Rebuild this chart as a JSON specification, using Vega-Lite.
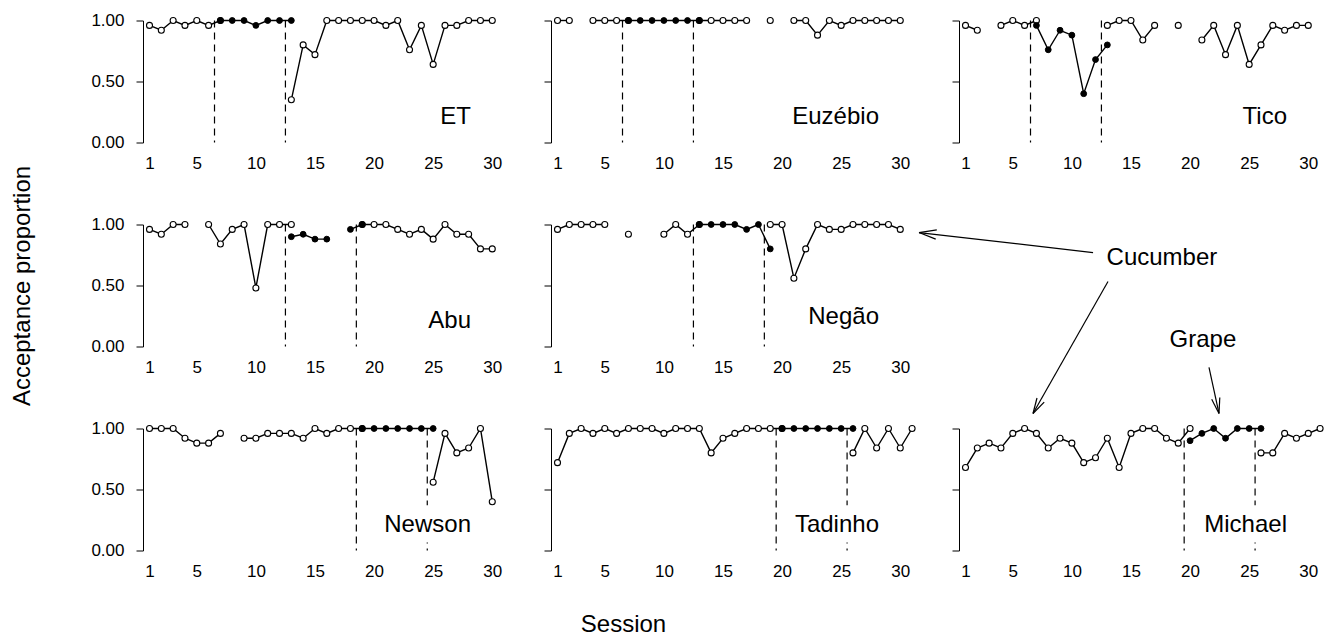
{
 "$schema": "https://vega.github.io/schema/vega-lite/v6.json",
 "padding": {"left": 10, "top": 11.5, "right": 0, "bottom": 0},
 "background": "white",
 "bounds": "flush",
 "columns": 3,
 "spacing": {"row": 82, "column": 41},
 "datasets": {
  "obs": [
   {"animal":"ET","session":1,"value":0.96,"phase":"open","seg":1},
   {"animal":"ET","session":2,"value":0.92,"phase":"open","seg":1},
   {"animal":"ET","session":3,"value":1,"phase":"open","seg":1},
   {"animal":"ET","session":4,"value":0.96,"phase":"open","seg":1},
   {"animal":"ET","session":5,"value":1,"phase":"open","seg":1},
   {"animal":"ET","session":6,"value":0.96,"phase":"open","seg":1},
   {"animal":"ET","session":7,"value":1,"phase":"open","seg":1},
   {"animal":"ET","session":7,"value":1,"phase":"filled","seg":2},
   {"animal":"ET","session":8,"value":1,"phase":"filled","seg":2},
   {"animal":"ET","session":9,"value":1,"phase":"filled","seg":2},
   {"animal":"ET","session":10,"value":0.96,"phase":"filled","seg":2},
   {"animal":"ET","session":11,"value":1,"phase":"filled","seg":2},
   {"animal":"ET","session":12,"value":1,"phase":"filled","seg":2},
   {"animal":"ET","session":13,"value":1,"phase":"filled","seg":2},
   {"animal":"ET","session":13,"value":0.35,"phase":"open","seg":3},
   {"animal":"ET","session":14,"value":0.8,"phase":"open","seg":3},
   {"animal":"ET","session":15,"value":0.72,"phase":"open","seg":3},
   {"animal":"ET","session":16,"value":1,"phase":"open","seg":3},
   {"animal":"ET","session":17,"value":1,"phase":"open","seg":3},
   {"animal":"ET","session":18,"value":1,"phase":"open","seg":3},
   {"animal":"ET","session":19,"value":1,"phase":"open","seg":3},
   {"animal":"ET","session":20,"value":1,"phase":"open","seg":3},
   {"animal":"ET","session":21,"value":0.96,"phase":"open","seg":3},
   {"animal":"ET","session":22,"value":1,"phase":"open","seg":3},
   {"animal":"ET","session":23,"value":0.76,"phase":"open","seg":3},
   {"animal":"ET","session":24,"value":0.96,"phase":"open","seg":3},
   {"animal":"ET","session":25,"value":0.64,"phase":"open","seg":3},
   {"animal":"ET","session":26,"value":0.96,"phase":"open","seg":3},
   {"animal":"ET","session":27,"value":0.96,"phase":"open","seg":3},
   {"animal":"ET","session":28,"value":1,"phase":"open","seg":3},
   {"animal":"ET","session":29,"value":1,"phase":"open","seg":3},
   {"animal":"ET","session":30,"value":1,"phase":"open","seg":3},

   {"animal":"Euzébio","session":1,"value":1,"phase":"open","seg":1},
   {"animal":"Euzébio","session":2,"value":1,"phase":"open","seg":1},
   {"animal":"Euzébio","session":4,"value":1,"phase":"open","seg":2},
   {"animal":"Euzébio","session":5,"value":1,"phase":"open","seg":2},
   {"animal":"Euzébio","session":6,"value":1,"phase":"open","seg":2},
   {"animal":"Euzébio","session":7,"value":1,"phase":"open","seg":2},
   {"animal":"Euzébio","session":7,"value":1,"phase":"filled","seg":3},
   {"animal":"Euzébio","session":8,"value":1,"phase":"filled","seg":3},
   {"animal":"Euzébio","session":9,"value":1,"phase":"filled","seg":3},
   {"animal":"Euzébio","session":10,"value":1,"phase":"filled","seg":3},
   {"animal":"Euzébio","session":11,"value":1,"phase":"filled","seg":3},
   {"animal":"Euzébio","session":12,"value":1,"phase":"filled","seg":3},
   {"animal":"Euzébio","session":13,"value":1,"phase":"filled","seg":3},
   {"animal":"Euzébio","session":13,"value":1,"phase":"open","seg":4},
   {"animal":"Euzébio","session":14,"value":1,"phase":"open","seg":4},
   {"animal":"Euzébio","session":15,"value":1,"phase":"open","seg":4},
   {"animal":"Euzébio","session":16,"value":1,"phase":"open","seg":4},
   {"animal":"Euzébio","session":17,"value":1,"phase":"open","seg":4},
   {"animal":"Euzébio","session":19,"value":1,"phase":"open","seg":5},
   {"animal":"Euzébio","session":21,"value":1,"phase":"open","seg":6},
   {"animal":"Euzébio","session":22,"value":1,"phase":"open","seg":6},
   {"animal":"Euzébio","session":23,"value":0.88,"phase":"open","seg":6},
   {"animal":"Euzébio","session":24,"value":1,"phase":"open","seg":6},
   {"animal":"Euzébio","session":25,"value":0.96,"phase":"open","seg":6},
   {"animal":"Euzébio","session":26,"value":1,"phase":"open","seg":6},
   {"animal":"Euzébio","session":27,"value":1,"phase":"open","seg":6},
   {"animal":"Euzébio","session":28,"value":1,"phase":"open","seg":6},
   {"animal":"Euzébio","session":29,"value":1,"phase":"open","seg":6},
   {"animal":"Euzébio","session":30,"value":1,"phase":"open","seg":6},

   {"animal":"Tico","session":1,"value":0.96,"phase":"open","seg":1},
   {"animal":"Tico","session":2,"value":0.92,"phase":"open","seg":1},
   {"animal":"Tico","session":4,"value":0.96,"phase":"open","seg":2},
   {"animal":"Tico","session":5,"value":1,"phase":"open","seg":2},
   {"animal":"Tico","session":6,"value":0.96,"phase":"open","seg":2},
   {"animal":"Tico","session":7,"value":1,"phase":"open","seg":2},
   {"animal":"Tico","session":7,"value":0.96,"phase":"filled","seg":3},
   {"animal":"Tico","session":8,"value":0.76,"phase":"filled","seg":3},
   {"animal":"Tico","session":9,"value":0.92,"phase":"filled","seg":3},
   {"animal":"Tico","session":10,"value":0.88,"phase":"filled","seg":3},
   {"animal":"Tico","session":11,"value":0.4,"phase":"filled","seg":3},
   {"animal":"Tico","session":12,"value":0.68,"phase":"filled","seg":3},
   {"animal":"Tico","session":13,"value":0.8,"phase":"filled","seg":3},
   {"animal":"Tico","session":13,"value":0.96,"phase":"open","seg":4},
   {"animal":"Tico","session":14,"value":1,"phase":"open","seg":4},
   {"animal":"Tico","session":15,"value":1,"phase":"open","seg":4},
   {"animal":"Tico","session":16,"value":0.84,"phase":"open","seg":4},
   {"animal":"Tico","session":17,"value":0.96,"phase":"open","seg":4},
   {"animal":"Tico","session":19,"value":0.96,"phase":"open","seg":5},
   {"animal":"Tico","session":21,"value":0.84,"phase":"open","seg":6},
   {"animal":"Tico","session":22,"value":0.96,"phase":"open","seg":6},
   {"animal":"Tico","session":23,"value":0.72,"phase":"open","seg":6},
   {"animal":"Tico","session":24,"value":0.96,"phase":"open","seg":6},
   {"animal":"Tico","session":25,"value":0.64,"phase":"open","seg":6},
   {"animal":"Tico","session":26,"value":0.8,"phase":"open","seg":6},
   {"animal":"Tico","session":27,"value":0.96,"phase":"open","seg":6},
   {"animal":"Tico","session":28,"value":0.92,"phase":"open","seg":6},
   {"animal":"Tico","session":29,"value":0.96,"phase":"open","seg":6},
   {"animal":"Tico","session":30,"value":0.96,"phase":"open","seg":6},

   {"animal":"Abu","session":1,"value":0.96,"phase":"open","seg":1},
   {"animal":"Abu","session":2,"value":0.92,"phase":"open","seg":1},
   {"animal":"Abu","session":3,"value":1,"phase":"open","seg":1},
   {"animal":"Abu","session":4,"value":1,"phase":"open","seg":1},
   {"animal":"Abu","session":6,"value":1,"phase":"open","seg":2},
   {"animal":"Abu","session":7,"value":0.84,"phase":"open","seg":2},
   {"animal":"Abu","session":8,"value":0.96,"phase":"open","seg":2},
   {"animal":"Abu","session":9,"value":1,"phase":"open","seg":2},
   {"animal":"Abu","session":10,"value":0.48,"phase":"open","seg":2},
   {"animal":"Abu","session":11,"value":1,"phase":"open","seg":2},
   {"animal":"Abu","session":12,"value":1,"phase":"open","seg":2},
   {"animal":"Abu","session":13,"value":1,"phase":"open","seg":2},
   {"animal":"Abu","session":13,"value":0.9,"phase":"filled","seg":3},
   {"animal":"Abu","session":14,"value":0.92,"phase":"filled","seg":3},
   {"animal":"Abu","session":15,"value":0.88,"phase":"filled","seg":3},
   {"animal":"Abu","session":16,"value":0.88,"phase":"filled","seg":3},
   {"animal":"Abu","session":18,"value":0.96,"phase":"filled","seg":4},
   {"animal":"Abu","session":19,"value":1,"phase":"filled","seg":4},
   {"animal":"Abu","session":19,"value":1,"phase":"open","seg":5},
   {"animal":"Abu","session":20,"value":1,"phase":"open","seg":5},
   {"animal":"Abu","session":21,"value":1,"phase":"open","seg":5},
   {"animal":"Abu","session":22,"value":0.96,"phase":"open","seg":5},
   {"animal":"Abu","session":23,"value":0.92,"phase":"open","seg":5},
   {"animal":"Abu","session":24,"value":0.96,"phase":"open","seg":5},
   {"animal":"Abu","session":25,"value":0.88,"phase":"open","seg":5},
   {"animal":"Abu","session":26,"value":1,"phase":"open","seg":5},
   {"animal":"Abu","session":27,"value":0.92,"phase":"open","seg":5},
   {"animal":"Abu","session":28,"value":0.92,"phase":"open","seg":5},
   {"animal":"Abu","session":29,"value":0.8,"phase":"open","seg":5},
   {"animal":"Abu","session":30,"value":0.8,"phase":"open","seg":5},

   {"animal":"Negão","session":1,"value":0.96,"phase":"open","seg":1},
   {"animal":"Negão","session":2,"value":1,"phase":"open","seg":1},
   {"animal":"Negão","session":3,"value":1,"phase":"open","seg":1},
   {"animal":"Negão","session":4,"value":1,"phase":"open","seg":1},
   {"animal":"Negão","session":5,"value":1,"phase":"open","seg":1},
   {"animal":"Negão","session":7,"value":0.92,"phase":"open","seg":2},
   {"animal":"Negão","session":10,"value":0.92,"phase":"open","seg":3},
   {"animal":"Negão","session":11,"value":1,"phase":"open","seg":3},
   {"animal":"Negão","session":12,"value":0.92,"phase":"open","seg":3},
   {"animal":"Negão","session":13,"value":1,"phase":"open","seg":3},
   {"animal":"Negão","session":13,"value":1,"phase":"filled","seg":4},
   {"animal":"Negão","session":14,"value":1,"phase":"filled","seg":4},
   {"animal":"Negão","session":15,"value":1,"phase":"filled","seg":4},
   {"animal":"Negão","session":16,"value":1,"phase":"filled","seg":4},
   {"animal":"Negão","session":17,"value":0.96,"phase":"filled","seg":4},
   {"animal":"Negão","session":18,"value":1,"phase":"filled","seg":4},
   {"animal":"Negão","session":19,"value":0.8,"phase":"filled","seg":4},
   {"animal":"Negão","session":19,"value":1,"phase":"open","seg":5},
   {"animal":"Negão","session":20,"value":1,"phase":"open","seg":5},
   {"animal":"Negão","session":21,"value":0.56,"phase":"open","seg":5},
   {"animal":"Negão","session":22,"value":0.8,"phase":"open","seg":5},
   {"animal":"Negão","session":23,"value":1,"phase":"open","seg":5},
   {"animal":"Negão","session":24,"value":0.96,"phase":"open","seg":5},
   {"animal":"Negão","session":25,"value":0.96,"phase":"open","seg":5},
   {"animal":"Negão","session":26,"value":1,"phase":"open","seg":5},
   {"animal":"Negão","session":27,"value":1,"phase":"open","seg":5},
   {"animal":"Negão","session":28,"value":1,"phase":"open","seg":5},
   {"animal":"Negão","session":29,"value":1,"phase":"open","seg":5},
   {"animal":"Negão","session":30,"value":0.96,"phase":"open","seg":5},

   {"animal":"Newson","session":1,"value":1,"phase":"open","seg":1},
   {"animal":"Newson","session":2,"value":1,"phase":"open","seg":1},
   {"animal":"Newson","session":3,"value":1,"phase":"open","seg":1},
   {"animal":"Newson","session":4,"value":0.92,"phase":"open","seg":1},
   {"animal":"Newson","session":5,"value":0.88,"phase":"open","seg":1},
   {"animal":"Newson","session":6,"value":0.88,"phase":"open","seg":1},
   {"animal":"Newson","session":7,"value":0.96,"phase":"open","seg":1},
   {"animal":"Newson","session":9,"value":0.92,"phase":"open","seg":2},
   {"animal":"Newson","session":10,"value":0.92,"phase":"open","seg":2},
   {"animal":"Newson","session":11,"value":0.96,"phase":"open","seg":2},
   {"animal":"Newson","session":12,"value":0.96,"phase":"open","seg":2},
   {"animal":"Newson","session":13,"value":0.96,"phase":"open","seg":2},
   {"animal":"Newson","session":14,"value":0.92,"phase":"open","seg":2},
   {"animal":"Newson","session":15,"value":1,"phase":"open","seg":2},
   {"animal":"Newson","session":16,"value":0.96,"phase":"open","seg":2},
   {"animal":"Newson","session":17,"value":1,"phase":"open","seg":2},
   {"animal":"Newson","session":18,"value":1,"phase":"open","seg":2},
   {"animal":"Newson","session":19,"value":1,"phase":"open","seg":2},
   {"animal":"Newson","session":19,"value":1,"phase":"filled","seg":3},
   {"animal":"Newson","session":20,"value":1,"phase":"filled","seg":3},
   {"animal":"Newson","session":21,"value":1,"phase":"filled","seg":3},
   {"animal":"Newson","session":22,"value":1,"phase":"filled","seg":3},
   {"animal":"Newson","session":23,"value":1,"phase":"filled","seg":3},
   {"animal":"Newson","session":24,"value":1,"phase":"filled","seg":3},
   {"animal":"Newson","session":25,"value":1,"phase":"filled","seg":3},
   {"animal":"Newson","session":25,"value":0.56,"phase":"open","seg":4},
   {"animal":"Newson","session":26,"value":0.96,"phase":"open","seg":4},
   {"animal":"Newson","session":27,"value":0.8,"phase":"open","seg":4},
   {"animal":"Newson","session":28,"value":0.84,"phase":"open","seg":4},
   {"animal":"Newson","session":29,"value":1,"phase":"open","seg":4},
   {"animal":"Newson","session":30,"value":0.4,"phase":"open","seg":4},

   {"animal":"Tadinho","session":1,"value":0.72,"phase":"open","seg":1},
   {"animal":"Tadinho","session":2,"value":0.96,"phase":"open","seg":1},
   {"animal":"Tadinho","session":3,"value":1,"phase":"open","seg":1},
   {"animal":"Tadinho","session":4,"value":0.96,"phase":"open","seg":1},
   {"animal":"Tadinho","session":5,"value":1,"phase":"open","seg":1},
   {"animal":"Tadinho","session":6,"value":0.96,"phase":"open","seg":1},
   {"animal":"Tadinho","session":7,"value":1,"phase":"open","seg":1},
   {"animal":"Tadinho","session":8,"value":1,"phase":"open","seg":1},
   {"animal":"Tadinho","session":9,"value":1,"phase":"open","seg":1},
   {"animal":"Tadinho","session":10,"value":0.96,"phase":"open","seg":1},
   {"animal":"Tadinho","session":11,"value":1,"phase":"open","seg":1},
   {"animal":"Tadinho","session":12,"value":1,"phase":"open","seg":1},
   {"animal":"Tadinho","session":13,"value":1,"phase":"open","seg":1},
   {"animal":"Tadinho","session":14,"value":0.8,"phase":"open","seg":1},
   {"animal":"Tadinho","session":15,"value":0.92,"phase":"open","seg":1},
   {"animal":"Tadinho","session":16,"value":0.96,"phase":"open","seg":1},
   {"animal":"Tadinho","session":17,"value":1,"phase":"open","seg":1},
   {"animal":"Tadinho","session":18,"value":1,"phase":"open","seg":1},
   {"animal":"Tadinho","session":19,"value":1,"phase":"open","seg":1},
   {"animal":"Tadinho","session":20,"value":1,"phase":"open","seg":1},
   {"animal":"Tadinho","session":20,"value":1,"phase":"filled","seg":2},
   {"animal":"Tadinho","session":21,"value":1,"phase":"filled","seg":2},
   {"animal":"Tadinho","session":22,"value":1,"phase":"filled","seg":2},
   {"animal":"Tadinho","session":23,"value":1,"phase":"filled","seg":2},
   {"animal":"Tadinho","session":24,"value":1,"phase":"filled","seg":2},
   {"animal":"Tadinho","session":25,"value":1,"phase":"filled","seg":2},
   {"animal":"Tadinho","session":26,"value":1,"phase":"filled","seg":2},
   {"animal":"Tadinho","session":26,"value":0.8,"phase":"open","seg":3},
   {"animal":"Tadinho","session":27,"value":1,"phase":"open","seg":3},
   {"animal":"Tadinho","session":28,"value":0.84,"phase":"open","seg":3},
   {"animal":"Tadinho","session":29,"value":1,"phase":"open","seg":3},
   {"animal":"Tadinho","session":30,"value":0.84,"phase":"open","seg":3},
   {"animal":"Tadinho","session":31,"value":1,"phase":"open","seg":3},

   {"animal":"Michael","session":1,"value":0.68,"phase":"open","seg":1},
   {"animal":"Michael","session":2,"value":0.84,"phase":"open","seg":1},
   {"animal":"Michael","session":3,"value":0.88,"phase":"open","seg":1},
   {"animal":"Michael","session":4,"value":0.84,"phase":"open","seg":1},
   {"animal":"Michael","session":5,"value":0.96,"phase":"open","seg":1},
   {"animal":"Michael","session":6,"value":1,"phase":"open","seg":1},
   {"animal":"Michael","session":7,"value":0.96,"phase":"open","seg":1},
   {"animal":"Michael","session":8,"value":0.84,"phase":"open","seg":1},
   {"animal":"Michael","session":9,"value":0.92,"phase":"open","seg":1},
   {"animal":"Michael","session":10,"value":0.88,"phase":"open","seg":1},
   {"animal":"Michael","session":11,"value":0.72,"phase":"open","seg":1},
   {"animal":"Michael","session":12,"value":0.76,"phase":"open","seg":1},
   {"animal":"Michael","session":13,"value":0.92,"phase":"open","seg":1},
   {"animal":"Michael","session":14,"value":0.68,"phase":"open","seg":1},
   {"animal":"Michael","session":15,"value":0.96,"phase":"open","seg":1},
   {"animal":"Michael","session":16,"value":1,"phase":"open","seg":1},
   {"animal":"Michael","session":17,"value":1,"phase":"open","seg":1},
   {"animal":"Michael","session":18,"value":0.92,"phase":"open","seg":1},
   {"animal":"Michael","session":19,"value":0.88,"phase":"open","seg":1},
   {"animal":"Michael","session":20,"value":1,"phase":"open","seg":1},
   {"animal":"Michael","session":20,"value":0.9,"phase":"filled","seg":2},
   {"animal":"Michael","session":21,"value":0.96,"phase":"filled","seg":2},
   {"animal":"Michael","session":22,"value":1,"phase":"filled","seg":2},
   {"animal":"Michael","session":23,"value":0.92,"phase":"filled","seg":2},
   {"animal":"Michael","session":24,"value":1,"phase":"filled","seg":2},
   {"animal":"Michael","session":25,"value":1,"phase":"filled","seg":2},
   {"animal":"Michael","session":26,"value":1,"phase":"filled","seg":2},
   {"animal":"Michael","session":26,"value":0.8,"phase":"open","seg":3},
   {"animal":"Michael","session":27,"value":0.8,"phase":"open","seg":3},
   {"animal":"Michael","session":28,"value":0.96,"phase":"open","seg":3},
   {"animal":"Michael","session":29,"value":0.92,"phase":"open","seg":3},
   {"animal":"Michael","session":30,"value":0.96,"phase":"open","seg":3},
   {"animal":"Michael","session":31,"value":1,"phase":"open","seg":3}
  ],
  "phases": [
   {"animal":"ET","session":6.5},{"animal":"ET","session":12.5},
   {"animal":"Euzébio","session":6.5},{"animal":"Euzébio","session":12.5},
   {"animal":"Tico","session":6.5},{"animal":"Tico","session":12.5},
   {"animal":"Abu","session":12.5},{"animal":"Abu","session":18.5},
   {"animal":"Negão","session":12.5},{"animal":"Negão","session":18.5},
   {"animal":"Newson","session":18.5},{"animal":"Newson","session":24.5},
   {"animal":"Tadinho","session":19.5},{"animal":"Tadinho","session":25.5},
   {"animal":"Michael","session":19.5},{"animal":"Michael","session":25.5}
  ],
  "names": [
   {"animal":"ET","label":"ET"},
   {"animal":"Euzébio","label":"Euzébio"},
   {"animal":"Tico","label":"Tico"},
   {"animal":"Abu","label":"Abu"},
   {"animal":"Negão","label":"Negão"},
   {"animal":"Newson","label":"Newson"},
   {"animal":"Tadinho","label":"Tadinho"},
   {"animal":"Michael","label":"Michael"}
  ],
  "arrows": [
   {"session":11.79,"value":0.77,"session2":-2.934,"value2":0.934},
   {"session":-2.934,"value":0.934,"session2":-1.521,"value2":0.88},
   {"session":-2.934,"value":0.934,"session2":-1.428,"value2":0.956},
   {"session":13.056,"value":0.533,"session2":6.711,"value2":-0.549},
   {"session":6.711,"value":-0.549,"session2":7.658,"value2":-0.456},
   {"session":6.711,"value":-0.549,"session2":7.049,"value2":-0.422},
   {"session":21.6,"value":-0.172,"session2":22.446,"value2":-0.549},
   {"session":22.446,"value":-0.549,"session2":22.514,"value2":-0.418},
   {"session":22.446,"value":-0.549,"session2":21.829,"value2":-0.433}
  ],
  "notes": [
   {"note":"Cucumber","session":17.62,"value":0.725},
   {"note":"Grape","session":21.09,"value":0.057}
  ]
 },
 "concat": [
  {
   "width": 367, "height": 122,
   "layer": [
    {"data":{"name":"phases"},"transform":[{"filter":"datum.animal === 'ET'"}],"mark":{"type":"rule","color":"black","strokeWidth":1.2,"strokeDash":[7,5]},"encoding":{"x":{"field":"session","type":"quantitative","scale":{"domain":[0.45,31.5],"nice":false,"zero":false}}}},
    {"data":{"name":"obs"},"transform":[{"filter":"datum.animal === 'ET'"}],"mark":{"type":"line","color":"black","strokeWidth":1.4},"encoding":{
      "x":{"field":"session","type":"quantitative","scale":{"domain":[0.45,31.5],"nice":false,"zero":false},"axis":{"values":[1,5,10,15,20,25,30],"title":null}},
      "y":{"field":"value","type":"quantitative","scale":{"domain":[0,1],"nice":false,"zero":false},"axis":{"values":[0,0.25,0.5,0.75,1],"labelExpr":"datum.value == 0.25 || datum.value == 0.75 ? '' : format(datum.value, '.2f')","title":null}},
      "detail":{"field":"seg","type":"nominal"}}},
    {"data":{"name":"obs"},"transform":[{"filter":"datum.animal === 'ET' && datum.phase === 'open'"}],"mark":{"type":"point","shape":"circle","filled":true,"fill":"white","stroke":"black","strokeWidth":1.1,"size":36,"opacity":1},"encoding":{"x":{"field":"session","type":"quantitative"},"y":{"field":"value","type":"quantitative"}}},
    {"data":{"name":"obs"},"transform":[{"filter":"datum.animal === 'ET' && datum.phase === 'filled'"}],"mark":{"type":"point","shape":"circle","filled":true,"fill":"black","stroke":"black","strokeWidth":1,"size":34,"opacity":1},"encoding":{"x":{"field":"session","type":"quantitative"},"y":{"field":"value","type":"quantitative"}}},
    {"data":{"name":"names"},"transform":[{"filter":"datum.animal === 'ET'"}],"mark":{"type":"text","align":"right","baseline":"middle","fontSize":24,"color":"black"},"encoding":{"x":{"datum":28.2,"type":"quantitative"},"y":{"datum":0.21,"type":"quantitative"},"text":{"field":"label","type":"nominal"}}}
   ]
  },
  {
   "width": 367, "height": 122,
   "layer": [
    {"data":{"name":"phases"},"transform":[{"filter":"datum.animal === 'Euzébio'"}],"mark":{"type":"rule","color":"black","strokeWidth":1.2,"strokeDash":[7,5]},"encoding":{"x":{"field":"session","type":"quantitative","scale":{"domain":[0.45,31.5],"nice":false,"zero":false}}}},
    {"data":{"name":"obs"},"transform":[{"filter":"datum.animal === 'Euzébio'"}],"mark":{"type":"line","color":"black","strokeWidth":1.4},"encoding":{
      "x":{"field":"session","type":"quantitative","scale":{"domain":[0.45,31.5],"nice":false,"zero":false},"axis":{"values":[1,5,10,15,20,25,30],"title":null}},
      "y":{"field":"value","type":"quantitative","scale":{"domain":[0,1],"nice":false,"zero":false},"axis":{"values":[0,0.25,0.5,0.75,1],"labels":false,"title":null}},
      "detail":{"field":"seg","type":"nominal"}}},
    {"data":{"name":"obs"},"transform":[{"filter":"datum.animal === 'Euzébio' && datum.phase === 'open'"}],"mark":{"type":"point","shape":"circle","filled":true,"fill":"white","stroke":"black","strokeWidth":1.1,"size":36,"opacity":1},"encoding":{"x":{"field":"session","type":"quantitative"},"y":{"field":"value","type":"quantitative"}}},
    {"data":{"name":"obs"},"transform":[{"filter":"datum.animal === 'Euzébio' && datum.phase === 'filled'"}],"mark":{"type":"point","shape":"circle","filled":true,"fill":"black","stroke":"black","strokeWidth":1,"size":34,"opacity":1},"encoding":{"x":{"field":"session","type":"quantitative"},"y":{"field":"value","type":"quantitative"}}},
    {"data":{"name":"names"},"transform":[{"filter":"datum.animal === 'Euzébio'"}],"mark":{"type":"text","align":"right","baseline":"middle","fontSize":24,"color":"black"},"encoding":{"x":{"datum":28.2,"type":"quantitative"},"y":{"datum":0.21,"type":"quantitative"},"text":{"field":"label","type":"nominal"}}}
   ]
  },
  {
   "width": 367, "height": 122,
   "layer": [
    {"data":{"name":"phases"},"transform":[{"filter":"datum.animal === 'Tico'"}],"mark":{"type":"rule","color":"black","strokeWidth":1.2,"strokeDash":[7,5]},"encoding":{"x":{"field":"session","type":"quantitative","scale":{"domain":[0.45,31.5],"nice":false,"zero":false}}}},
    {"data":{"name":"obs"},"transform":[{"filter":"datum.animal === 'Tico'"}],"mark":{"type":"line","color":"black","strokeWidth":1.4},"encoding":{
      "x":{"field":"session","type":"quantitative","scale":{"domain":[0.45,31.5],"nice":false,"zero":false},"axis":{"values":[1,5,10,15,20,25,30],"title":null}},
      "y":{"field":"value","type":"quantitative","scale":{"domain":[0,1],"nice":false,"zero":false},"axis":{"values":[0,0.25,0.5,0.75,1],"labels":false,"title":null}},
      "detail":{"field":"seg","type":"nominal"}}},
    {"data":{"name":"obs"},"transform":[{"filter":"datum.animal === 'Tico' && datum.phase === 'open'"}],"mark":{"type":"point","shape":"circle","filled":true,"fill":"white","stroke":"black","strokeWidth":1.1,"size":36,"opacity":1},"encoding":{"x":{"field":"session","type":"quantitative"},"y":{"field":"value","type":"quantitative"}}},
    {"data":{"name":"obs"},"transform":[{"filter":"datum.animal === 'Tico' && datum.phase === 'filled'"}],"mark":{"type":"point","shape":"circle","filled":true,"fill":"black","stroke":"black","strokeWidth":1,"size":34,"opacity":1},"encoding":{"x":{"field":"session","type":"quantitative"},"y":{"field":"value","type":"quantitative"}}},
    {"data":{"name":"names"},"transform":[{"filter":"datum.animal === 'Tico'"}],"mark":{"type":"text","align":"right","baseline":"middle","fontSize":24,"color":"black"},"encoding":{"x":{"datum":28.2,"type":"quantitative"},"y":{"datum":0.21,"type":"quantitative"},"text":{"field":"label","type":"nominal"}}}
   ]
  },
  {
   "width": 367, "height": 122,
   "layer": [
    {"data":{"name":"phases"},"transform":[{"filter":"datum.animal === 'Abu'"}],"mark":{"type":"rule","color":"black","strokeWidth":1.2,"strokeDash":[7,5]},"encoding":{"x":{"field":"session","type":"quantitative","scale":{"domain":[0.45,31.5],"nice":false,"zero":false}}}},
    {"data":{"name":"obs"},"transform":[{"filter":"datum.animal === 'Abu'"}],"mark":{"type":"line","color":"black","strokeWidth":1.4},"encoding":{
      "x":{"field":"session","type":"quantitative","scale":{"domain":[0.45,31.5],"nice":false,"zero":false},"axis":{"values":[1,5,10,15,20,25,30],"title":null}},
      "y":{"field":"value","type":"quantitative","scale":{"domain":[0,1],"nice":false,"zero":false},"axis":{"values":[0,0.25,0.5,0.75,1],"labelExpr":"datum.value == 0.25 || datum.value == 0.75 ? '' : format(datum.value, '.2f')","title":"Acceptance proportion","titleX":-114,"titleBaseline":"alphabetic","titleAngle":-90}},
      "detail":{"field":"seg","type":"nominal"}}},
    {"data":{"name":"obs"},"transform":[{"filter":"datum.animal === 'Abu' && datum.phase === 'open'"}],"mark":{"type":"point","shape":"circle","filled":true,"fill":"white","stroke":"black","strokeWidth":1.1,"size":36,"opacity":1},"encoding":{"x":{"field":"session","type":"quantitative"},"y":{"field":"value","type":"quantitative"}}},
    {"data":{"name":"obs"},"transform":[{"filter":"datum.animal === 'Abu' && datum.phase === 'filled'"}],"mark":{"type":"point","shape":"circle","filled":true,"fill":"black","stroke":"black","strokeWidth":1,"size":34,"opacity":1},"encoding":{"x":{"field":"session","type":"quantitative"},"y":{"field":"value","type":"quantitative"}}},
    {"data":{"name":"names"},"transform":[{"filter":"datum.animal === 'Abu'"}],"mark":{"type":"text","align":"right","baseline":"middle","fontSize":24,"color":"black"},"encoding":{"x":{"datum":28.2,"type":"quantitative"},"y":{"datum":0.21,"type":"quantitative"},"text":{"field":"label","type":"nominal"}}}
   ]
  },
  {
   "width": 367, "height": 122,
   "layer": [
    {"data":{"name":"phases"},"transform":[{"filter":"datum.animal === 'Negão'"}],"mark":{"type":"rule","color":"black","strokeWidth":1.2,"strokeDash":[7,5]},"encoding":{"x":{"field":"session","type":"quantitative","scale":{"domain":[0.45,31.5],"nice":false,"zero":false}}}},
    {"data":{"name":"obs"},"transform":[{"filter":"datum.animal === 'Negão'"}],"mark":{"type":"line","color":"black","strokeWidth":1.4},"encoding":{
      "x":{"field":"session","type":"quantitative","scale":{"domain":[0.45,31.5],"nice":false,"zero":false},"axis":{"values":[1,5,10,15,20,25,30],"title":null}},
      "y":{"field":"value","type":"quantitative","scale":{"domain":[0,1],"nice":false,"zero":false},"axis":{"values":[0,0.25,0.5,0.75,1],"labels":false,"title":null}},
      "detail":{"field":"seg","type":"nominal"}}},
    {"data":{"name":"obs"},"transform":[{"filter":"datum.animal === 'Negão' && datum.phase === 'open'"}],"mark":{"type":"point","shape":"circle","filled":true,"fill":"white","stroke":"black","strokeWidth":1.1,"size":36,"opacity":1},"encoding":{"x":{"field":"session","type":"quantitative"},"y":{"field":"value","type":"quantitative"}}},
    {"data":{"name":"obs"},"transform":[{"filter":"datum.animal === 'Negão' && datum.phase === 'filled'"}],"mark":{"type":"point","shape":"circle","filled":true,"fill":"black","stroke":"black","strokeWidth":1,"size":34,"opacity":1},"encoding":{"x":{"field":"session","type":"quantitative"},"y":{"field":"value","type":"quantitative"}}},
    {"data":{"name":"names"},"transform":[{"filter":"datum.animal === 'Negão'"}],"mark":{"type":"text","align":"right","baseline":"middle","fontSize":24,"color":"black"},"encoding":{"x":{"datum":28.2,"type":"quantitative"},"y":{"datum":0.24,"type":"quantitative"},"text":{"field":"label","type":"nominal"}}}
   ]
  },
  {
   "width": 367, "height": 122,
   "layer": [
    {"data":{"name":"arrows"},"mark":{"type":"rule","color":"black","strokeWidth":1.2},"encoding":{
      "x":{"field":"session","type":"quantitative","scale":{"domain":[0.45,31.5],"nice":false,"zero":false},"axis":null},
      "y":{"field":"value","type":"quantitative","scale":{"domain":[0,1],"nice":false,"zero":false},"axis":null},
      "x2":{"field":"session2"},"y2":{"field":"value2"}}},
    {"data":{"name":"notes"},"mark":{"type":"text","fontSize":24,"align":"center","baseline":"middle","color":"black"},"encoding":{
      "x":{"field":"session","type":"quantitative","scale":{"domain":[0.45,31.5],"nice":false,"zero":false},"axis":null},
      "y":{"field":"value","type":"quantitative","scale":{"domain":[0,1],"nice":false,"zero":false},"axis":null},
      "text":{"field":"note","type":"nominal"}}}
   ]
  },
  {
   "width": 367, "height": 122,
   "layer": [
    {"data":{"name":"phases"},"transform":[{"filter":"datum.animal === 'Newson'"}],"mark":{"type":"rule","color":"black","strokeWidth":1.2,"strokeDash":[7,5]},"encoding":{"x":{"field":"session","type":"quantitative","scale":{"domain":[0.45,31.5],"nice":false,"zero":false}}}},
    {"data":{"name":"names"},"transform":[{"filter":"datum.animal === 'Newson'"}],"mark":{"type":"point","shape":"M-1,-0.37L1,-0.37L1,0.37L-1,0.37Z","filled":true,"fill":"white","strokeWidth":0,"size":10100,"opacity":1},"encoding":{"x":{"datum":24.55,"type":"quantitative"},"y":{"datum":0.2175,"type":"quantitative"}}},
    {"data":{"name":"obs"},"transform":[{"filter":"datum.animal === 'Newson'"}],"mark":{"type":"line","color":"black","strokeWidth":1.4},"encoding":{
      "x":{"field":"session","type":"quantitative","scale":{"domain":[0.45,31.5],"nice":false,"zero":false},"axis":{"values":[1,5,10,15,20,25,30],"title":null}},
      "y":{"field":"value","type":"quantitative","scale":{"domain":[0,1],"nice":false,"zero":false},"axis":{"values":[0,0.25,0.5,0.75,1],"labelExpr":"datum.value == 0.25 || datum.value == 0.75 ? '' : format(datum.value, '.2f')","title":null}},
      "detail":{"field":"seg","type":"nominal"}}},
    {"data":{"name":"obs"},"transform":[{"filter":"datum.animal === 'Newson' && datum.phase === 'open'"}],"mark":{"type":"point","shape":"circle","filled":true,"fill":"white","stroke":"black","strokeWidth":1.1,"size":36,"opacity":1},"encoding":{"x":{"field":"session","type":"quantitative"},"y":{"field":"value","type":"quantitative"}}},
    {"data":{"name":"obs"},"transform":[{"filter":"datum.animal === 'Newson' && datum.phase === 'filled'"}],"mark":{"type":"point","shape":"circle","filled":true,"fill":"black","stroke":"black","strokeWidth":1,"size":34,"opacity":1},"encoding":{"x":{"field":"session","type":"quantitative"},"y":{"field":"value","type":"quantitative"}}},
    {"data":{"name":"names"},"transform":[{"filter":"datum.animal === 'Newson'"}],"mark":{"type":"text","align":"right","baseline":"middle","fontSize":24,"color":"black"},"encoding":{"x":{"datum":28.2,"type":"quantitative"},"y":{"datum":0.21,"type":"quantitative"},"text":{"field":"label","type":"nominal"}}}
   ]
  },
  {
   "width": 367, "height": 122,
   "layer": [
    {"data":{"name":"phases"},"transform":[{"filter":"datum.animal === 'Tadinho'"}],"mark":{"type":"rule","color":"black","strokeWidth":1.2,"strokeDash":[7,5]},"encoding":{"x":{"field":"session","type":"quantitative","scale":{"domain":[0.45,31.5],"nice":false,"zero":false}}}},
    {"data":{"name":"names"},"transform":[{"filter":"datum.animal === 'Tadinho'"}],"mark":{"type":"point","shape":"M-1,-0.37L1,-0.37L1,0.37L-1,0.37Z","filled":true,"fill":"white","strokeWidth":0,"size":10100,"opacity":1},"encoding":{"x":{"datum":24.55,"type":"quantitative"},"y":{"datum":0.2175,"type":"quantitative"}}},
    {"data":{"name":"obs"},"transform":[{"filter":"datum.animal === 'Tadinho'"}],"mark":{"type":"line","color":"black","strokeWidth":1.4},"encoding":{
      "x":{"field":"session","type":"quantitative","scale":{"domain":[0.45,31.5],"nice":false,"zero":false},"axis":{"values":[1,5,10,15,20,25,30],"title":"Session","titleX":72,"titleY":81,"titleBaseline":"alphabetic","titleAlign":"center"}},
      "y":{"field":"value","type":"quantitative","scale":{"domain":[0,1],"nice":false,"zero":false},"axis":{"values":[0,0.25,0.5,0.75,1],"labels":false,"title":null}},
      "detail":{"field":"seg","type":"nominal"}}},
    {"data":{"name":"obs"},"transform":[{"filter":"datum.animal === 'Tadinho' && datum.phase === 'open'"}],"mark":{"type":"point","shape":"circle","filled":true,"fill":"white","stroke":"black","strokeWidth":1.1,"size":36,"opacity":1},"encoding":{"x":{"field":"session","type":"quantitative"},"y":{"field":"value","type":"quantitative"}}},
    {"data":{"name":"obs"},"transform":[{"filter":"datum.animal === 'Tadinho' && datum.phase === 'filled'"}],"mark":{"type":"point","shape":"circle","filled":true,"fill":"black","stroke":"black","strokeWidth":1,"size":34,"opacity":1},"encoding":{"x":{"field":"session","type":"quantitative"},"y":{"field":"value","type":"quantitative"}}},
    {"data":{"name":"names"},"transform":[{"filter":"datum.animal === 'Tadinho'"}],"mark":{"type":"text","align":"right","baseline":"middle","fontSize":24,"color":"black"},"encoding":{"x":{"datum":28.2,"type":"quantitative"},"y":{"datum":0.21,"type":"quantitative"},"text":{"field":"label","type":"nominal"}}}
   ]
  },
  {
   "width": 367, "height": 122,
   "layer": [
    {"data":{"name":"phases"},"transform":[{"filter":"datum.animal === 'Michael'"}],"mark":{"type":"rule","color":"black","strokeWidth":1.2,"strokeDash":[7,5]},"encoding":{"x":{"field":"session","type":"quantitative","scale":{"domain":[0.45,31.5],"nice":false,"zero":false}}}},
    {"data":{"name":"names"},"transform":[{"filter":"datum.animal === 'Michael'"}],"mark":{"type":"point","shape":"M-1,-0.37L1,-0.37L1,0.37L-1,0.37Z","filled":true,"fill":"white","strokeWidth":0,"size":10100,"opacity":1},"encoding":{"x":{"datum":24.55,"type":"quantitative"},"y":{"datum":0.2175,"type":"quantitative"}}},
    {"data":{"name":"obs"},"transform":[{"filter":"datum.animal === 'Michael'"}],"mark":{"type":"line","color":"black","strokeWidth":1.4},"encoding":{
      "x":{"field":"session","type":"quantitative","scale":{"domain":[0.45,31.5],"nice":false,"zero":false},"axis":{"values":[1,5,10,15,20,25,30],"title":null}},
      "y":{"field":"value","type":"quantitative","scale":{"domain":[0,1],"nice":false,"zero":false},"axis":{"values":[0,0.25,0.5,0.75,1],"labels":false,"title":null}},
      "detail":{"field":"seg","type":"nominal"}}},
    {"data":{"name":"obs"},"transform":[{"filter":"datum.animal === 'Michael' && datum.phase === 'open'"}],"mark":{"type":"point","shape":"circle","filled":true,"fill":"white","stroke":"black","strokeWidth":1.1,"size":36,"opacity":1},"encoding":{"x":{"field":"session","type":"quantitative"},"y":{"field":"value","type":"quantitative"}}},
    {"data":{"name":"obs"},"transform":[{"filter":"datum.animal === 'Michael' && datum.phase === 'filled'"}],"mark":{"type":"point","shape":"circle","filled":true,"fill":"black","stroke":"black","strokeWidth":1,"size":34,"opacity":1},"encoding":{"x":{"field":"session","type":"quantitative"},"y":{"field":"value","type":"quantitative"}}},
    {"data":{"name":"names"},"transform":[{"filter":"datum.animal === 'Michael'"}],"mark":{"type":"text","align":"right","baseline":"middle","fontSize":24,"color":"black"},"encoding":{"x":{"datum":28.2,"type":"quantitative"},"y":{"datum":0.21,"type":"quantitative"},"text":{"field":"label","type":"nominal"}}}
   ]
  }
 ],
 "config": {
  "font": "Liberation Sans",
  "view": {"stroke": null},
  "axis": {"grid": false, "domainColor": "black", "tickColor": "black", "labelColor": "black", "labelFontSize": 17, "labelFont": "Liberation Sans", "titleFont": "Liberation Sans", "titleFontSize": 24, "titleFontWeight": "normal", "titleColor": "black", "domainWidth": 1, "tickWidth": 1, "labelFlush": false},
  "axisX": {"domain": false, "ticks": false, "labelPadding": 13},
  "axisY": {"tickSize": 7, "labelPadding": 12}
 }
}
